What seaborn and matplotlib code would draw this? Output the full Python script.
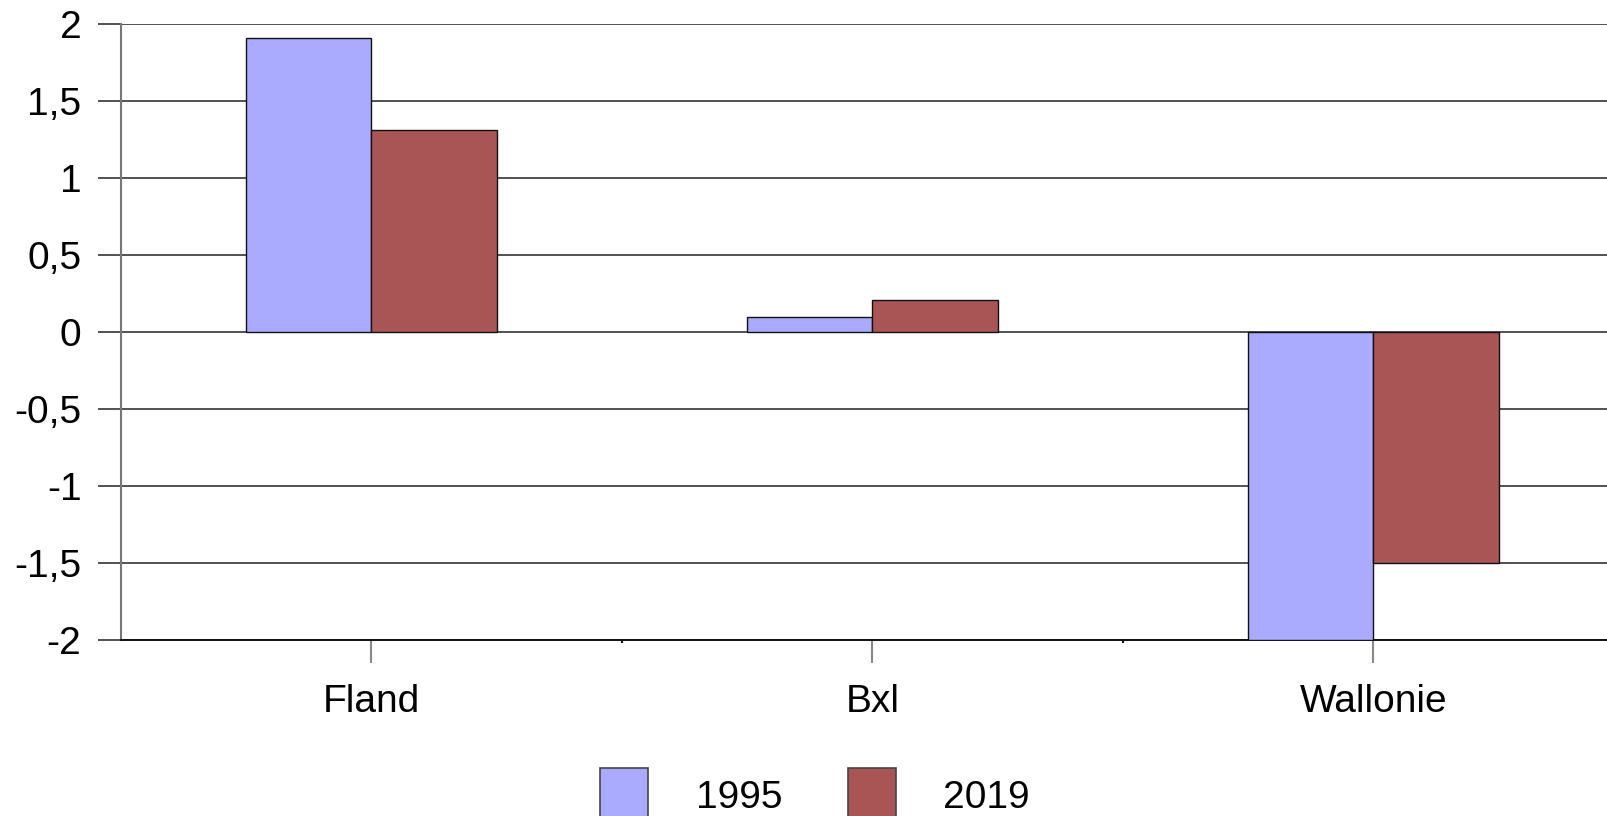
import matplotlib
matplotlib.use("Agg")
import matplotlib.pyplot as plt
import seaborn as sns
import pandas as pd
from matplotlib.ticker import FixedLocator, FuncFormatter

regions = ["Fland", "Bxl", "Wallonie"]
years = ["1995", "2019"]
values_1995 = [1.91, 0.10, -2.0]
values_2019 = [1.31, 0.205, -1.50]
yticks = [-2, -1.5, -1, -0.5, 0, 0.5, 1, 1.5, 2]
colors = ["#AAAAFF", "#AA5555"]

df = pd.DataFrame({
    "region": regions * 2,
    "year": [years[0]] * 3 + [years[1]] * 3,
    "value": values_1995 + values_2019,
})

sns.set_style("white")
plt.rcParams["font.family"] = ["Liberation Sans", "DejaVu Sans"]
plt.rcParams["text.color"] = "black"
plt.rcParams["xtick.labelcolor"] = "black"
plt.rcParams["ytick.labelcolor"] = "black"

W, H = 1608, 816
fig = plt.figure(figsize=(W / 100, H / 100), dpi=100)
ax = fig.add_axes([121 / W, 1 - 640 / H, 1503 / W, 616 / H])

sns.barplot(data=df, x="region", y="value", hue="year", order=regions,
            hue_order=years, palette=colors, width=0.5, ax=ax,
            edgecolor="#111111", linewidth=1.0, saturation=1, legend=False,
            zorder=3)

ax.set_xlim(-0.5, 2.5)
ax.set_ylim(-2, 2)
ax.set_yticks(yticks)
ax.yaxis.set_major_formatter(FuncFormatter(lambda v, p: ("%g" % v).replace(".", ",")))
ax.yaxis.grid(True, color="#333333", linewidth=1.2, zorder=0)
ax.set_axisbelow(True)
ax.set_xlabel("")
ax.set_ylabel("")

for s in ["top", "right"]:
    ax.spines[s].set_visible(False)
ax.spines["left"].set_color("#777777")
ax.spines["left"].set_linewidth(1.5)
ax.spines["bottom"].set_color("#111111")
ax.spines["bottom"].set_linewidth(1.4)

ax.tick_params(axis="y", which="major", length=16.5, width=1.2, color="#333333",
               pad=12, labelsize=28, left=True, labelcolor="black")
ax.tick_params(axis="x", which="major", length=16.5, width=1.5, color="#888888",
               pad=15, labelsize=28, bottom=True, labelcolor="black")
ax.xaxis.set_minor_locator(FixedLocator([0.5, 1.5]))
ax.tick_params(axis="x", which="minor", length=2, width=1.5, color="#111111", bottom=True)

handles = [plt.Rectangle((0, 0), 1, 1, facecolor=c, edgecolor="#444444", linewidth=1.2)
           for c in colors]
fig.legend(handles, years, loc="center", bbox_to_anchor=(815 / W, 1 - 795 / H),
           ncol=2, frameon=False, fontsize=28, handlelength=1.24, handleheight=1.75,
           handletextpad=1.22, columnspacing=1.68, borderpad=0, labelcolor="black")

fig.savefig("out.png", dpi=100)
